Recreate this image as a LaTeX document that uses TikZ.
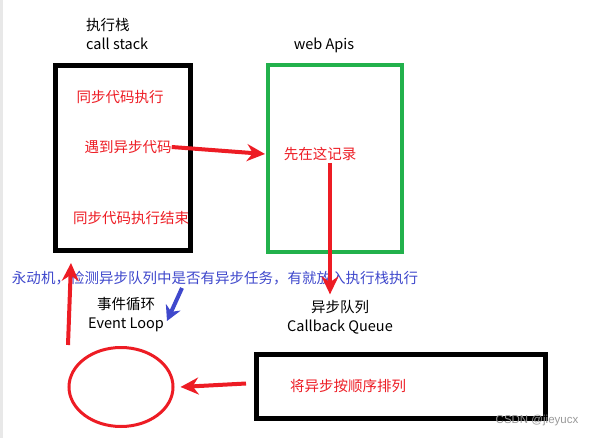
\documentclass[tikz,border=0pt]{standalone}
\usepackage{fontspec}
\setmainfont{Noto Sans CJK SC}
\newfontfamily\markfont{Liberation Sans}
\usetikzlibrary{arrows.meta,shapes.geometric}
\definecolor{paintred}{RGB}{237,28,36}
\definecolor{paintgreen}{RGB}{34,177,76}
\definecolor{paintblue}{RGB}{63,72,204}
\tikzset{
	txt/.style={font=\fontsize{14.5}{19}\selectfont, inner sep=0pt},
	redtxt/.style={txt, text=paintred},
	bluetxt/.style={txt, text=paintblue},
	box/.style={draw, line width=5pt, inner sep=0pt},
	redarrow/.style={draw=paintred, line width=4pt, -{Stealth[length=18pt,width=17pt]}},
	bluearrow/.style={draw=paintblue, line width=4pt, -{Stealth[length=15pt,width=16pt]}}
}
\begin{document}
\begin{tikzpicture}[x=1pt,y=-1pt]
	\useasboundingbox (0,0) rectangle (596,438);
	\fill[black!9] (0,0) rectangle (3,438);
	
	\node[txt, align=left, anchor=west] (stacklabel) at (86,34) {执行栈\\call stack};
	\node[txt] (apilabel) at (324,45) {web Apis};
	
	\node[box, minimum width=135pt, minimum height=185pt] (stack) at (123,158) {};
	\node[box, draw=paintgreen, line width=4pt, minimum width=134pt, minimum height=187pt] (webapi) at (335,158.5) {};
	
	\node[redtxt] (sync) at (120,97) {同步代码执行};
	\node[redtxt] (meet) at (128,147) {遇到异步代码};
	\node[redtxt] (syncend) at (131,218) {同步代码执行结束};
	\node[redtxt] (record) at (320,154) {先在这记录};
	
	\node[bluetxt] (tick) at (215,278) {永动机，检测异步队列中是否有异步任务，有就放入执行栈执行};
	
	\node[txt, align=center] (looplabel) at (126,315) {事件循环\\Event Loop};
	\node[txt, align=center] (queuelabel) at (340,317.5) {异步队列\\Callback Queue};
	
	\node[box, minimum width=289pt, minimum height=64pt] (queue) at (401,386.5) {};
	\node[redtxt] (order) at (348,386) {将异步按顺序排列};
	\node[ellipse, draw=paintred, line width=3pt, minimum width=104pt, minimum height=79pt, inner sep=0pt] (loop) at (121,387) {};
	
	\coordinate (uptail) at (68,345);
	\coordinate (bluetail) at (182,288);
	\coordinate (bluetip) at (167,321);
	
	\draw[redarrow] (meet.east) -- ([xshift=-1pt]webapi.west |- record.west);
	\draw[redarrow] ([xshift=10pt, yshift=-2pt]record.south) -- ([xshift=-10pt, yshift=6pt]queuelabel.north);
	\draw[redarrow] ([xshift=-8pt, yshift=3pt]queue.west) -- ([xshift=6pt]loop.east);
	\draw[redarrow] (uptail) -- ([shift={(-52pt,-10pt)}]stack.south);
	\draw[bluearrow] (bluetail) -- (bluetip);
	
	\node[font=\markfont\fontsize{11.5}{12}\selectfont, text=black!40, inner sep=0pt] (mark) at (537,421) {CSDN @jieyucx};
\end{tikzpicture}
\end{document}
